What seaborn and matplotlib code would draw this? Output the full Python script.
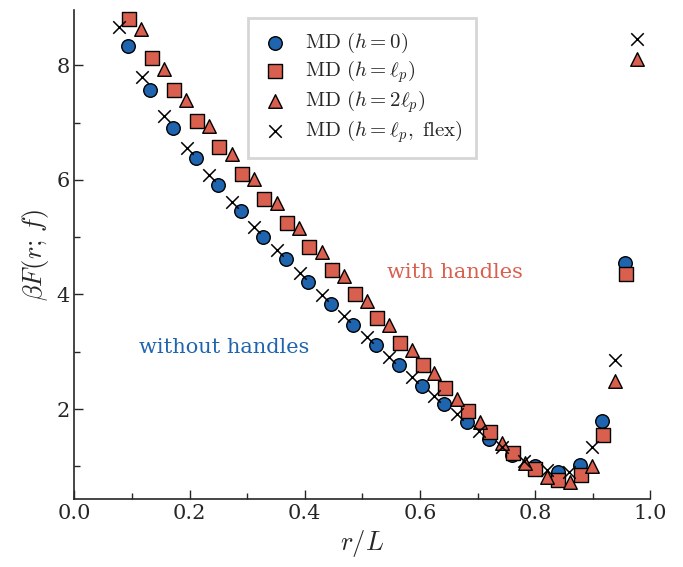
import numpy as np
import pandas as pd
import matplotlib
matplotlib.use("Agg")
import matplotlib.pyplot as plt
from matplotlib.ticker import MultipleLocator
import seaborn as sns

# data
x_h0 = [0.093, 0.131, 0.171, 0.211, 0.250, 0.289, 0.328, 0.368, 0.406, 0.446,
        0.484, 0.524, 0.564, 0.604, 0.642, 0.681, 0.720, 0.760, 0.800, 0.839,
        0.878, 0.916, 0.956]
y_h0 = [8.33, 7.56, 6.91, 6.38, 5.91, 5.45, 5.01, 4.61, 4.21, 3.84,
        3.46, 3.11, 2.76, 2.41, 2.08, 1.77, 1.47, 1.20, 1.00, 0.90,
        1.03, 1.79, 4.54]

x_hlp = [0.095, 0.134, 0.173, 0.213, 0.252, 0.291, 0.330, 0.369, 0.408, 0.448,
         0.487, 0.526, 0.565, 0.605, 0.644, 0.683, 0.722, 0.762, 0.800, 0.840,
         0.879, 0.918, 0.957]
y_hlp = [8.81, 8.13, 7.56, 7.02, 6.57, 6.11, 5.67, 5.24, 4.83, 4.42,
         4.00, 3.58, 3.16, 2.76, 2.36, 1.97, 1.59, 1.23, 0.95, 0.76,
         0.84, 1.55, 4.35]

x_h2lp = [0.116, 0.155, 0.194, 0.234, 0.273, 0.312, 0.351, 0.390, 0.430, 0.469,
          0.508, 0.547, 0.586, 0.625, 0.664, 0.704, 0.743, 0.782, 0.821, 0.860,
          0.899, 0.938, 0.977]
y_h2lp = [8.63, 7.94, 7.39, 6.94, 6.45, 6.02, 5.60, 5.16, 4.74, 4.32,
          3.89, 3.46, 3.03, 2.62, 2.18, 1.77, 1.40, 1.06, 0.82, 0.72,
          1.01, 2.49, 8.10]

x_flex = [0.078, 0.117, 0.156, 0.196, 0.234, 0.274, 0.312, 0.351, 0.391, 0.430,
          0.469, 0.508, 0.547, 0.586, 0.625, 0.664, 0.703, 0.742, 0.781, 0.821,
          0.859, 0.899, 0.938, 0.977]
y_flex = [8.67, 7.80, 7.12, 6.56, 6.08, 5.62, 5.18, 4.78, 4.38, 3.99,
          3.62, 3.26, 2.91, 2.56, 2.22, 1.92, 1.62, 1.34, 1.09, 0.93,
          0.90, 1.33, 2.86, 8.45]

labels = [r"$\mathrm{MD}\ (h=0)$", r"$\mathrm{MD}\ (h=\ell_p)$",
          r"$\mathrm{MD}\ (h=2\ell_p)$", r"$\mathrm{MD}\ (h=\ell_p,\ \mathrm{flex})$"]

blue = "#1f64ae"
red = "#d95f4e"

sns.set_style("ticks")
plt.rcParams["font.family"] = ["DejaVu Serif"]
plt.rcParams["mathtext.fontset"] = "cm"

fig = plt.figure(figsize=(6.83, 5.67), dpi=100)
ax = fig.add_axes([0.1088, 0.12, 0.8434, 0.862])

ms = 95
sns.scatterplot(x=x_h0, y=y_h0, marker="o", color=blue, edgecolor="black",
                linewidth=1.0, s=ms, label=labels[0], ax=ax, zorder=3)
sns.scatterplot(x=x_hlp, y=y_hlp, marker="s", color=red, edgecolor="black",
                linewidth=1.0, s=ms * 0.95, label=labels[1], ax=ax, zorder=3)
sns.scatterplot(x=x_h2lp, y=y_h2lp, marker="^", color=red, edgecolor="black",
                linewidth=1.0, s=ms, label=labels[2], ax=ax, zorder=3)
sns.scatterplot(x=x_flex, y=y_flex, marker="x", color="black",
                linewidth=1.1, s=ms * 0.85, label=labels[3], ax=ax, zorder=3)

ax.text(0.26, 3.08, "without handles", color=blue, fontsize=15,
        ha="center", va="center")
ax.text(0.66, 4.39, "with handles", color=red, fontsize=15,
        ha="center", va="center")

ax.set_xlim(0.0, 1.0)
ax.set_ylim(0.43, 8.96)
ax.xaxis.set_major_locator(MultipleLocator(0.2))
ax.xaxis.set_minor_locator(MultipleLocator(0.1))
ax.yaxis.set_major_locator(MultipleLocator(2))
ax.yaxis.set_minor_locator(MultipleLocator(1))
ax.tick_params(which="major", direction="in", length=6.5, width=1.0, labelsize=15)
ax.tick_params(which="minor", direction="in", length=4.2, width=1.0)
sns.despine(ax=ax)
for s in ["left", "bottom"]:
    ax.spines[s].set_linewidth(1.2)

ax.set_xlabel(r"$r/L$", fontsize=19)
ax.set_ylabel(r"$\beta F(r;\, f)$", fontsize=19)

leg = ax.legend(loc="upper left", bbox_to_anchor=(0.3016, 0.984), borderaxespad=0,
                fontsize=15, frameon=True, fancybox=False, edgecolor="#cccccc",
                handlelength=1.3, handletextpad=0.8, borderpad=0.62, labelspacing=0.16)
leg.get_frame().set_linewidth(2.0)

fig.savefig("out.png", dpi=100)
